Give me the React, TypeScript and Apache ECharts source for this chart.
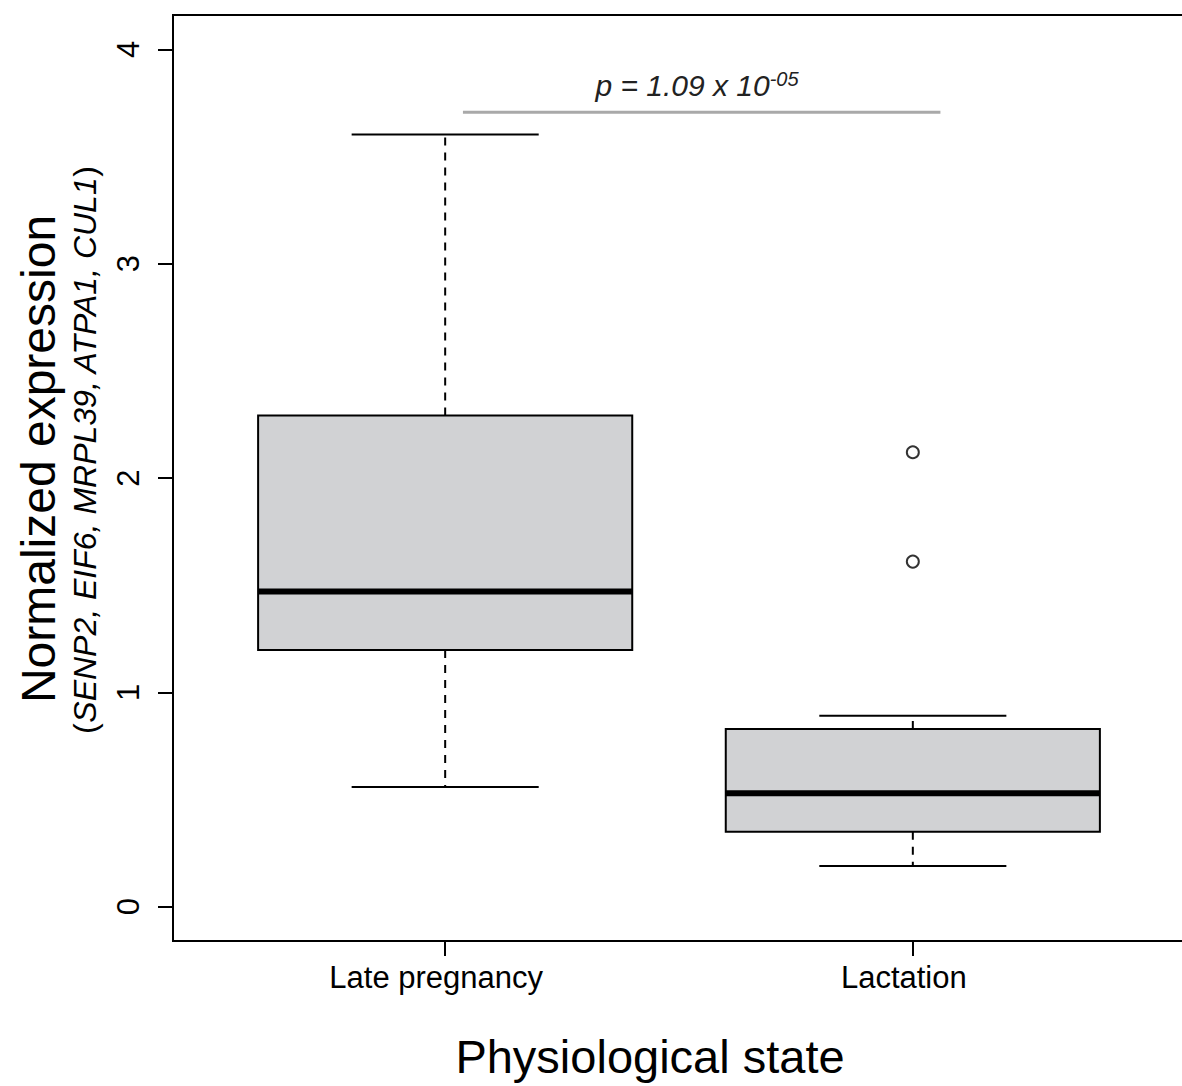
import React, { useEffect, useRef } from "react";
import * as echarts from "echarts";

// ---- data ----
const categories = ["Late pregnancy", "Lactation"];
const categoryPos = [1, 2];
const boxMin = [0.558, 0.19];
const boxQ1 = [1.198, 0.35];
const boxMedian = [1.47, 0.529];
const boxQ3 = [2.291, 0.829];
const boxMax = [3.603, 0.891];
const outlierGroup = [2, 2];
const outlierValues = [2.12, 1.61];
const yTicks = [0, 1, 2, 3, 4];
const pLineX = [1.038, 2.059];
const pLineY = [3.706, 3.706];
const pText = "p = 1.09 x 10";
const pExp = "-05";

const FONT = '"Liberation Sans", Arial, Helvetica, sans-serif';

export default function App() {
  const ref = useRef<HTMLDivElement>(null);

  useEffect(() => {
    if (!ref.current) return;
    const chart = echarts.init(ref.current, undefined, { renderer: "svg" });

    const boxData = categories.map((_, i) => [
      categoryPos[i],
      boxMin[i],
      boxQ1[i],
      boxMedian[i],
      boxQ3[i],
      boxMax[i],
    ]);

    const renderBox = (params: any, api: any) => {
      const x = api.value(0);
      const vMin = api.value(1);
      const vQ1 = api.value(2);
      const vMed = api.value(3);
      const vQ3 = api.value(4);
      const vMax = api.value(5);
      const cx = api.coord([x, vMed])[0];
      const left = api.coord([x - 0.4, vMed])[0];
      const right = api.coord([x + 0.4, vMed])[0];
      const capL = api.coord([x - 0.2, vMed])[0];
      const capR = api.coord([x + 0.2, vMed])[0];
      const yMin = api.coord([x, vMin])[1];
      const yQ1 = api.coord([x, vQ1])[1];
      const yMed = api.coord([x, vMed])[1];
      const yQ3 = api.coord([x, vQ3])[1];
      const yMax = api.coord([x, vMax])[1];
      const dash = { stroke: "#000", lineWidth: 2, lineDash: [8, 7] };
      const solid = { stroke: "#000", lineWidth: 2 };
      return {
        type: "group",
        children: [
          { type: "line", shape: { x1: cx, y1: yQ3, x2: cx, y2: yMax }, style: dash },
          { type: "line", shape: { x1: cx, y1: yQ1, x2: cx, y2: yMin }, style: dash },
          { type: "line", shape: { x1: capL, y1: yMax, x2: capR, y2: yMax }, style: solid },
          { type: "line", shape: { x1: capL, y1: yMin, x2: capR, y2: yMin }, style: solid },
          {
            type: "rect",
            shape: { x: left, y: yQ3, width: right - left, height: yQ1 - yQ3 },
            style: { fill: "#d1d2d4", stroke: "#000", lineWidth: 2 },
          },
          {
            type: "line",
            shape: { x1: left, y1: yMed, x2: right, y2: yMed },
            style: { stroke: "#000", lineWidth: 6, lineCap: "butt" },
          },
        ],
      };
    };

    const option: any = {
      animation: false,
      backgroundColor: "#fff",
      grid: {
        left: 173,
        top: 15,
        right: 1,
        bottom: 145,
        show: true,
        borderColor: "#000",
        borderWidth: 2,
        backgroundColor: "transparent",
      },
      xAxis: {
        type: "value",
        min: 0.418,
        max: 2.582,
        splitLine: { show: false },
        axisLine: { show: true, onZero: false, lineStyle: { color: "#000", width: 2 } },
        axisTick: {
          show: true,
          customValues: categoryPos,
          length: 15,
          lineStyle: { color: "#000", width: 2 },
        },
        axisLabel: {
          customValues: categoryPos,
          formatter: (v: number) => categories[Math.round(v) - 1] ?? "",
          fontSize: 31,
          lineHeight: 31,
          fontFamily: FONT,
          color: "#000",
          margin: 21,
          padding: [0, 18, 0, 0],
        },
      },
      yAxis: {
        type: "value",
        min: -0.16,
        max: 4.16,
        splitLine: { show: false },
        axisLine: { show: true, onZero: false, lineStyle: { color: "#000", width: 2 } },
        axisTick: {
          show: true,
          customValues: yTicks,
          length: 15,
          lineStyle: { color: "#000", width: 2 },
        },
        axisLabel: {
          customValues: yTicks,
          rotate: 90,
          fontSize: 31,
          lineHeight: 31,
          fontFamily: FONT,
          color: "#000",
          margin: 29,
        },
      },
      series: [
        {
          type: "custom",
          renderItem: renderBox,
          data: boxData,
          encode: { x: 0, y: [1, 2, 3, 4, 5] },
          z: 2,
        },
        {
          type: "scatter",
          data: outlierValues.map((v, i) => [outlierGroup[i], v]),
          symbol: "circle",
          symbolSize: 12,
          itemStyle: { color: "#fff", borderColor: "#000", borderWidth: 2 },
          z: 3,
        },
        {
          type: "line",
          data: pLineX.map((x, i) => [x, pLineY[i]]),
          symbol: "none",
          lineStyle: { color: "#a9a9a9", width: 3 },
          z: 3,
        },
      ],
      graphic: [
        {
          type: "text",
          x: 697,
          y: 85,
          style: {
            text: `{a|${pText}}{b|${pExp}}`,
            align: "center",
            verticalAlign: "middle",
            textAlign: "center",
            textVerticalAlign: "middle",
            rich: {
              a: { fontSize: 30, fontStyle: "italic", fontFamily: FONT, fill: "#222", lineHeight: 32 },
              b: { fontSize: 20, fontStyle: "italic", fontFamily: FONT, fill: "#222", verticalAlign: "top", lineHeight: 20 },
            },
          },
        },
        {
          type: "text",
          x: 38,
          y: 459,
          rotation: Math.PI / 2,
          style: {
            text: "Normalized expression",
            fontSize: 48,
            fontFamily: FONT,
            fill: "#000",
            align: "center",
            verticalAlign: "middle",
            textAlign: "center",
            textVerticalAlign: "middle",
          },
        },
        {
          type: "text",
          x: 85,
          y: 450,
          rotation: Math.PI / 2,
          style: {
            text: "{n|(}{i|SENP2, EIF6, MRPL39, ATPA1, CUL1}{n|)}",
            align: "center",
            verticalAlign: "middle",
            textAlign: "center",
            textVerticalAlign: "middle",
            rich: {
              n: { fontSize: 32, fontFamily: FONT, fill: "#000" },
              i: { fontSize: 32, fontStyle: "italic", fontFamily: FONT, fill: "#000" },
            },
          },
        },
        {
          type: "text",
          x: 650,
          y: 1056,
          style: {
            text: "Physiological state",
            fontSize: 47,
            fontFamily: FONT,
            fill: "#000",
            align: "center",
            verticalAlign: "middle",
            textAlign: "center",
            textVerticalAlign: "middle",
          },
        },
      ],
    };

    chart.setOption(option);
    return () => chart.dispose();
  }, []);

  return (
    <div
      style={{
        position: "fixed",
        left: 0,
        top: 0,
        width: 1182,
        height: 1086,
        overflow: "hidden",
        background: "#fff",
      }}
    >
      <div ref={ref} style={{ width: 1186, height: 1086 }} />
    </div>
  );
}
